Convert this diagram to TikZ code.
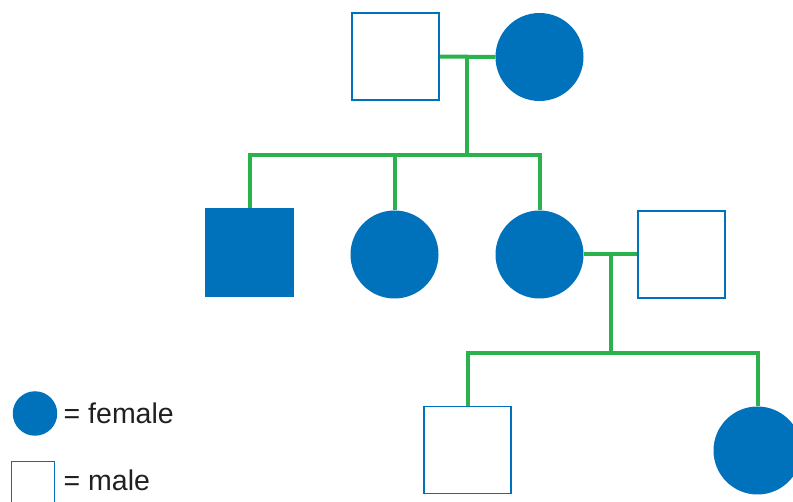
\documentclass[tikz,border=0pt]{standalone}
\usepackage{fontspec}
\setmainfont{Liberation Sans}
\usetikzlibrary{calc}
\definecolor{pedblue}{HTML}{0072BC}
\definecolor{pedgreen}{HTML}{2BB24C}
\definecolor{legendtext}{HTML}{231F20}
\begin{document}
\begin{tikzpicture}[x=1pt,y=-1pt,
  female/.style={circle,fill=pedblue,draw=none,minimum size=88pt,inner sep=0pt,outer sep=0pt},
  male/.style={rectangle,draw=pedblue,line width=1.3pt,fill=white,minimum size=87pt,inner sep=0pt,outer sep=0pt},
  affected/.style={rectangle,fill=pedblue,draw=none,minimum size=89pt,inner sep=0pt,outer sep=0pt},
  link/.style={draw=pedgreen,line width=4pt,line join=miter},
  legendlabel/.style={anchor=base west,inner sep=0pt,text=legendtext,font=\fontsize{28.5}{34}\selectfont}]
\useasboundingbox (0,0) rectangle (793,502);

% first generation
\node[male]   (m1) at (395.5,56.5) {};
\node[female] (f1) at (539.5,57) {};

% second generation
\node[affected] (c1) at (249.5,253) {};
\node[female]   (c2) at (394.5,254.5) {};
\node[female]   (c3) at (539.5,254.5) {};
\node[male]     (m2) at (681.5,254.5) {};

% third generation
\node[male]   (g1) at (467.5,450) {};
\node[female] (g2) at (757.5,450.5) {};

% marriage lines and sibship bars
\coordinate (u1) at ($(m1.east)!0.5!(f1.west)$);
\coordinate (j1) at (u1 |- 0,155);
\draw[link] (m1.east) -- (f1.west);
\draw[link] (u1) -- (j1);
\draw[link] (c1.north) |- (c3.north |- j1) -- (c3.north);
\draw[link] (c2.north) -- (c2.north |- j1);

\coordinate (u2) at ($(c3.east)!0.5!(m2.west)$);
\coordinate (j2) at (u2 |- 0,353);
\draw[link] (c3.east) -- (m2.west);
\draw[link] (u2) -- (j2);
\draw[link] (g1.north) |- (g2.north |- j2) -- (g2.north);

% redraw symbols above the line ends
\node[male]   at (m1) {};
\node[male]   at (m2) {};
\node[male]   at (g1) {};

% legend
\node[female,minimum size=44.5pt] (lf) at (35,413.5) {};
\node[male,minimum size=43.5pt,line width=1pt] (lm) at (33.2,483) {};
\node[legendlabel] (tf) at (63.5,423.3) {= female};
\node[legendlabel] (tm) at (63.5,491) {= male};
\end{tikzpicture}
\end{document}
